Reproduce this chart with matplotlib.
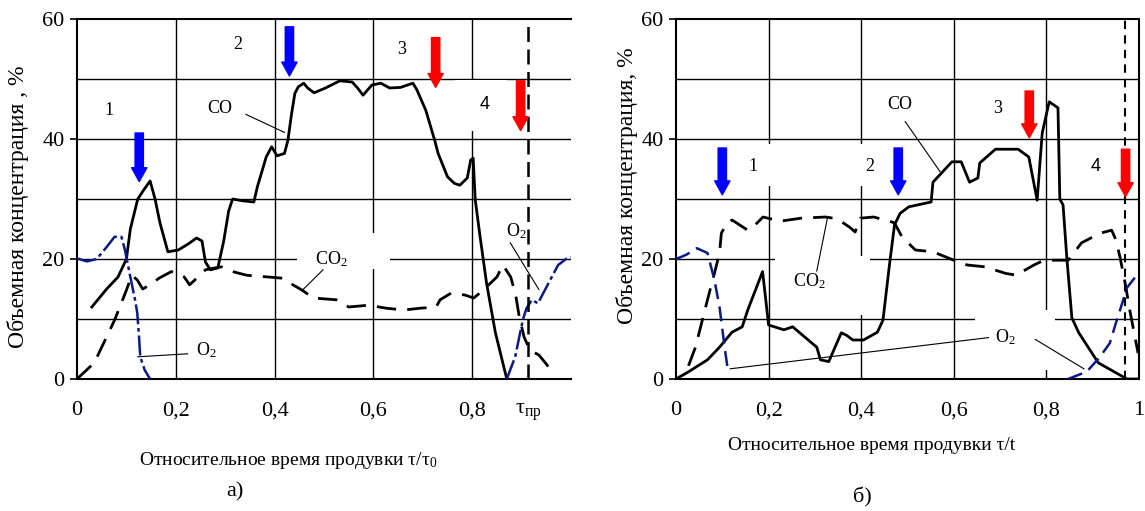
import matplotlib
matplotlib.use("Agg")
import matplotlib.pyplot as plt
from matplotlib.patches import Rectangle

plt.rcParams["font.family"] = ["Liberation Serif", "DejaVu Serif"]
plt.rcParams["mathtext.fontset"] = "custom"
plt.rcParams["mathtext.rm"] = "Liberation Serif"
plt.rcParams["mathtext.it"] = "Liberation Serif:italic"

# ---- panel a) ----
co_a_t = [0.03, 0.06, 0.083, 0.1, 0.108, 0.123, 0.135, 0.148, 0.158, 0.168, 0.184, 0.205,
          0.225, 0.242, 0.253, 0.26, 0.27, 0.285, 0.297, 0.307, 0.315, 0.335, 0.358, 0.365,
          0.383, 0.394, 0.405, 0.42, 0.427, 0.434, 0.441, 0.448, 0.459, 0.467, 0.48, 0.503,
          0.532, 0.557, 0.568, 0.579, 0.597, 0.615, 0.633, 0.655, 0.68, 0.688, 0.706, 0.724,
          0.731, 0.75, 0.764, 0.775, 0.79, 0.797, 0.802, 0.806, 0.815, 0.829, 0.847, 0.87]
co_a = [12, 15, 17, 20, 25, 30, 31.5, 33, 30, 26, 21.2, 21.5,
        22.5, 23.5, 23, 19.5, 18.2, 18.5, 23, 28, 30, 29.7, 29.5, 32,
        37, 38.7, 37.2, 37.6, 39.8, 44, 47.6, 48.7, 49.3, 48.5, 47.7, 48.5,
        49.7, 49.5, 48.5, 47.3, 49, 49.3, 48.5, 48.6, 49.3, 48.2, 44.8, 39.8,
        37.6, 33.7, 32.6, 32.3, 33.5, 36.5, 36.8, 30, 24.3, 16, 7.7, 0]

co2_a_t = [0, 0.035, 0.076, 0.1, 0.111, 0.122, 0.133, 0.15, 0.166, 0.191, 0.205, 0.217,
           0.228, 0.245, 0.26, 0.278, 0.293, 0.315, 0.343, 0.387, 0.416, 0.437, 0.456, 0.478,
           0.525, 0.55, 0.59, 0.626, 0.662, 0.695, 0.727, 0.735, 0.757, 0.785, 0.803, 0.818,
           0.85, 0.862, 0.878, 0.888, 0.895, 0.905, 0.917, 0.935, 0.95, 0.965]
co2_a = [0, 2.7, 9.8, 14.8, 17.3, 16.5, 15, 15.8, 16.8, 17.9, 17.6, 17,
         15.7, 17, 18.2, 18.5, 18.7, 17.9, 17.3, 17, 16.8, 15.7, 14.8, 13.5,
         13.2, 12, 12.3, 11.8, 11.5, 11.8, 12, 13.2, 14.3, 14, 13.5, 14.5,
         17, 19, 17, 14, 10.5, 7, 4.8, 4, 2.5, 0.8]

o2_a1_t = [0, 0.02, 0.04, 0.06, 0.076, 0.09, 0.097, 0.108, 0.118, 0.122, 0.126, 0.128, 0.137, 0.148]
o2_a1 = [20.1, 19.6, 20, 22, 23.7, 23.7, 21.5, 17, 13, 11, 6.5, 3.7, 1.5, 0]
o2_a2_t = [0.87, 0.887, 0.897, 0.903, 0.91, 0.921, 0.933, 0.947, 0.961, 0.974, 0.99, 1.0]
o2_a2 = [0, 3.7, 7.7, 10, 11.8, 13.2, 12.6, 14.8, 17, 19, 20, 20.3]

t_pr_a = 0.913

# ---- panel б) ----
co_b_t = [0, 0.027, 0.068, 0.094, 0.121, 0.143, 0.155, 0.187, 0.2, 0.233, 0.252, 0.304,
          0.312, 0.33, 0.357, 0.368, 0.382, 0.405, 0.435, 0.447, 0.461, 0.472, 0.484, 0.503,
          0.551, 0.555, 0.596, 0.616, 0.634, 0.652, 0.656, 0.69, 0.739, 0.762, 0.78, 0.791,
          0.806, 0.825, 0.829, 0.836, 0.844, 0.855, 0.87, 0.912, 0.974, 1.0]
co_b = [0, 1.2, 3.2, 5.3, 7.8, 8.7, 11.5, 17.9, 9, 8.2, 8.7, 5.3,
        3.2, 2.9, 7.7, 7.3, 6.5, 6.5, 7.8, 9.8, 19, 25.7, 27.6, 28.7,
        29.5, 32.8, 36.2, 36.2, 32.8, 33.5, 36, 38.3, 38.3, 37, 29.8, 41,
        46.2, 45.2, 30, 29, 20.3, 10.2, 7.7, 2.7, 0, 0]

co2_b_t = [0.027, 0.042, 0.068, 0.083, 0.094, 0.098, 0.11, 0.121, 0.155, 0.166, 0.188, 0.225,
           0.27, 0.323, 0.348, 0.375, 0.387, 0.398, 0.427, 0.465, 0.472, 0.488, 0.517, 0.555,
           0.584, 0.6, 0.629, 0.667, 0.712, 0.735, 0.746, 0.773, 0.795, 0.818, 0.847, 0.876,
           0.916, 0.941, 0.95, 0.959, 0.97, 0.98, 0.998]
co2_b = [2.2, 5.3, 13.2, 17.6, 21, 24.3, 26, 26.5, 24.8, 25.3, 27, 26.3,
         26.8, 27, 26.7, 25.3, 24.5, 26.8, 27, 26.2, 26, 23.7, 21.5, 21.2,
         20.3, 19.8, 19, 18.7, 17.6, 17.3, 17.8, 19, 19.8, 19.8, 19.8, 22.7,
         24.3, 24.8, 23.2, 20.3, 16, 11.5, 4.3]

o2_b1_t = [0, 0.022, 0.045, 0.068, 0.083, 0.094, 0.105, 0.112]
o2_b1 = [20, 20.7, 21.8, 21, 16.5, 12, 5.3, 1.5]
o2_b2_t = [0.847, 0.873, 0.887, 0.916, 0.937, 0.952, 0.966, 0.974, 1.0]
o2_b2 = [0, 0.8, 1.2, 3.7, 6, 9.8, 13.2, 15.2, 17.8]

t_pr_b = 0.97

y_ticks = [0, 20, 40, 60]
grid_x = [0.2, 0.4, 0.6, 0.8]
grid_y = [10, 20, 30, 40, 50]
x_ticks_a = [0, 0.2, 0.4, 0.6, 0.8, t_pr_a]
x_labels_a = ["0", "0,2", "0,4", "0,6", "0,8", "τ$_{\\mathrm{пр}}$"]
x_ticks_b = [0, 0.2, 0.4, 0.6, 0.8, 1.0]
x_labels_b = ["0", "0,2", "0,4", "0,6", "0,8", "1"]

BLUE = "#0000ff"
RED = "#ff0000"
NAVY = "#0a1a8a"
SERIF = ["Liberation Serif", "DejaVu Serif"]

W, H = 1145, 511
fig = plt.figure(figsize=(W / 100, H / 100), dpi=100)
ax_a = fig.add_axes([77 / W, 1 - 379 / H, 494 / W, 360 / H])
ax_b = fig.add_axes([676 / W, 1 - 379 / H, 463 / W, 360 / H])


def setup(ax, xt, xl):
    ax.set_xlim(0, 1)
    ax.set_ylim(0, 60)
    ax.set_xticks(xt)
    ax.set_xticklabels(xl, family=SERIF)
    ax.set_yticks(y_ticks)
    ax.set_yticklabels([str(v) for v in y_ticks], family=SERIF)
    for gx in grid_x:
        ax.axvline(gx, color="black", lw=1.0, zorder=0.5)
    for gy in grid_y:
        ax.axhline(gy, color="black", lw=1.0, zorder=0.5)
    ax.tick_params(axis="x", length=0, pad=16, labelsize=16)
    ax.tick_params(axis="y", length=5, width=1.2, direction="out", pad=4, labelsize=16)
    for s in ax.spines.values():
        s.set_linewidth(1.5)


def gap(ax, x0, y0, x1, y1):
    ax.add_patch(Rectangle((x0, y0), x1 - x0, y1 - y0, fc="white", ec="none", zorder=1))


def arrow(ax, x, y0, y1, color):
    ax.annotate("", xy=(x, y1), xytext=(x, y0),
                arrowprops=dict(arrowstyle="simple,head_width=1.1,head_length=1.0,tail_width=0.6",
                                color=color, shrinkA=0, shrinkB=0, mutation_scale=10), zorder=5)


def note(ax, txt, x, y, size=13, family=None):
    kw = {} if family is None else {"family": family}
    ax.text(x, y, txt, ha="center", va="center", fontsize=size, zorder=4, **kw)


def leader(ax, x0, y0, x1, y1):
    ax.plot([x0, x1], [y0, y1], color="black", lw=0.8, zorder=4)


# ---- a) ----
setup(ax_a, x_ticks_a, x_labels_a)
ax_a.spines["right"].set_visible(False)
gap(ax_a, 0.765, 41.3, 0.87, 49.8)
gap(ax_a, 0.445, 18.3, 0.633, 24.3)
ax_a.plot(co_a_t, co_a, color="black", lw=2.0, zorder=3)
ax_a.plot(co2_a_t, co2_a, color="black", lw=2.0, ls=(0, (7, 4)), zorder=3)
ax_a.plot(o2_a1_t, o2_a1, color=NAVY, lw=1.8, ls=(0, (8, 1.5, 1.5, 1.5)), zorder=3)
ax_a.plot(o2_a2_t, o2_a2, color=NAVY, lw=1.8, ls=(0, (8, 1.5, 1.5, 1.5)), zorder=3)
ax_a.axvline(t_pr_a, color="black", lw=1.8, ls=(0, (6, 3)), zorder=3)

note(ax_a, "1", 0.065, 44.8)
note(ax_a, "2", 0.325, 55.7)
note(ax_a, "3", 0.658, 54.9)
note(ax_a, "4", 0.825, 45.7, family="Liberation Sans")
note(ax_a, "CO", 0.289, 45.1)
leader(ax_a, 0.342, 44.1, 0.42, 41.1)
note(ax_a, "CO$_2$", 0.515, 19.9)
leader(ax_a, 0.498, 18.2, 0.455, 14.7)
note(ax_a, "O$_2$", 0.262, 4.8)
leader(ax_a, 0.224, 4.2, 0.123, 3.7)
note(ax_a, "O$_2$", 0.89, 24.6)
leader(ax_a, 0.877, 22.7, 0.935, 14.9)

arrow(ax_a, 0.126, 41, 32.9, BLUE)
arrow(ax_a, 0.43, 58.7, 50.5, BLUE)
arrow(ax_a, 0.726, 56.9, 48.6, RED)
arrow(ax_a, 0.898, 49.7, 41.4, RED)

ax_a.set_ylabel("Объемная концентрация , %", fontsize=17)
ax_a.yaxis.set_label_coords(-0.097, 0.478)
ax_a.set_xlabel("Относительное время продувки τ/τ$_0$", fontsize=14)
ax_a.xaxis.set_label_coords(0.427, -0.197)
ax_a.text(0.32, -0.314, "а)", transform=ax_a.transAxes, ha="center", va="center", fontsize=16)

# ---- б) ----
setup(ax_b, x_ticks_b, x_labels_b)
gap(ax_b, 0.12, 32.2, 0.3, 39.2)
gap(ax_b, 0.36, 32.2, 0.45, 39.2)
gap(ax_b, 0.213, 10.7, 0.418, 20.5)
gap(ax_b, 0.646, 1.5, 0.819, 11.5)
ax_b.plot(co_b_t, co_b, color="black", lw=2.0, zorder=3)
ax_b.plot(co2_b_t, co2_b, color="black", lw=2.0, ls=(0, (7, 4)), zorder=3)
ax_b.plot(o2_b1_t, o2_b1, color=NAVY, lw=1.8, ls=(0, (6, 3)), zorder=3)
ax_b.plot(o2_b2_t, o2_b2, color=NAVY, lw=1.8, ls=(0, (6, 3)), zorder=3)
ax_b.axvline(t_pr_b, color="black", lw=1.5, ls=(0, (4, 3)), zorder=3)

note(ax_b, "1", 0.166, 35.4)
note(ax_b, "2", 0.418, 35.4)
note(ax_b, "3", 0.695, 45.1)
note(ax_b, "4", 0.906, 35.4, family="Liberation Sans")
note(ax_b, "CO", 0.484, 45.8)
leader(ax_b, 0.495, 42.9, 0.57, 34.6)
note(ax_b, "CO$_2$", 0.289, 16.3)
leader(ax_b, 0.304, 18, 0.327, 26.8)
note(ax_b, "O$_2$", 0.711, 6.9)
leader(ax_b, 0.675, 6.9, 0.117, 1.7)
leader(ax_b, 0.776, 6.6, 0.881, 1.7)

arrow(ax_b, 0.1, 38.5, 30.7, BLUE)
arrow(ax_b, 0.48, 38.5, 30.7, BLUE)
arrow(ax_b, 0.763, 48, 40.2, RED)
arrow(ax_b, 0.971, 38.3, 30.4, RED)

ax_b.set_ylabel("Объемная концентрация, %", fontsize=17)
ax_b.yaxis.set_label_coords(-0.082, 0.536)
ax_b.set_xlabel("Относительное время продувки τ/t", fontsize=14)
ax_b.xaxis.set_label_coords(0.423, -0.161)
ax_b.text(0.402, -0.328, "б)", transform=ax_b.transAxes, ha="center", va="center", fontsize=16)

fig.savefig("out.png", dpi=100)
